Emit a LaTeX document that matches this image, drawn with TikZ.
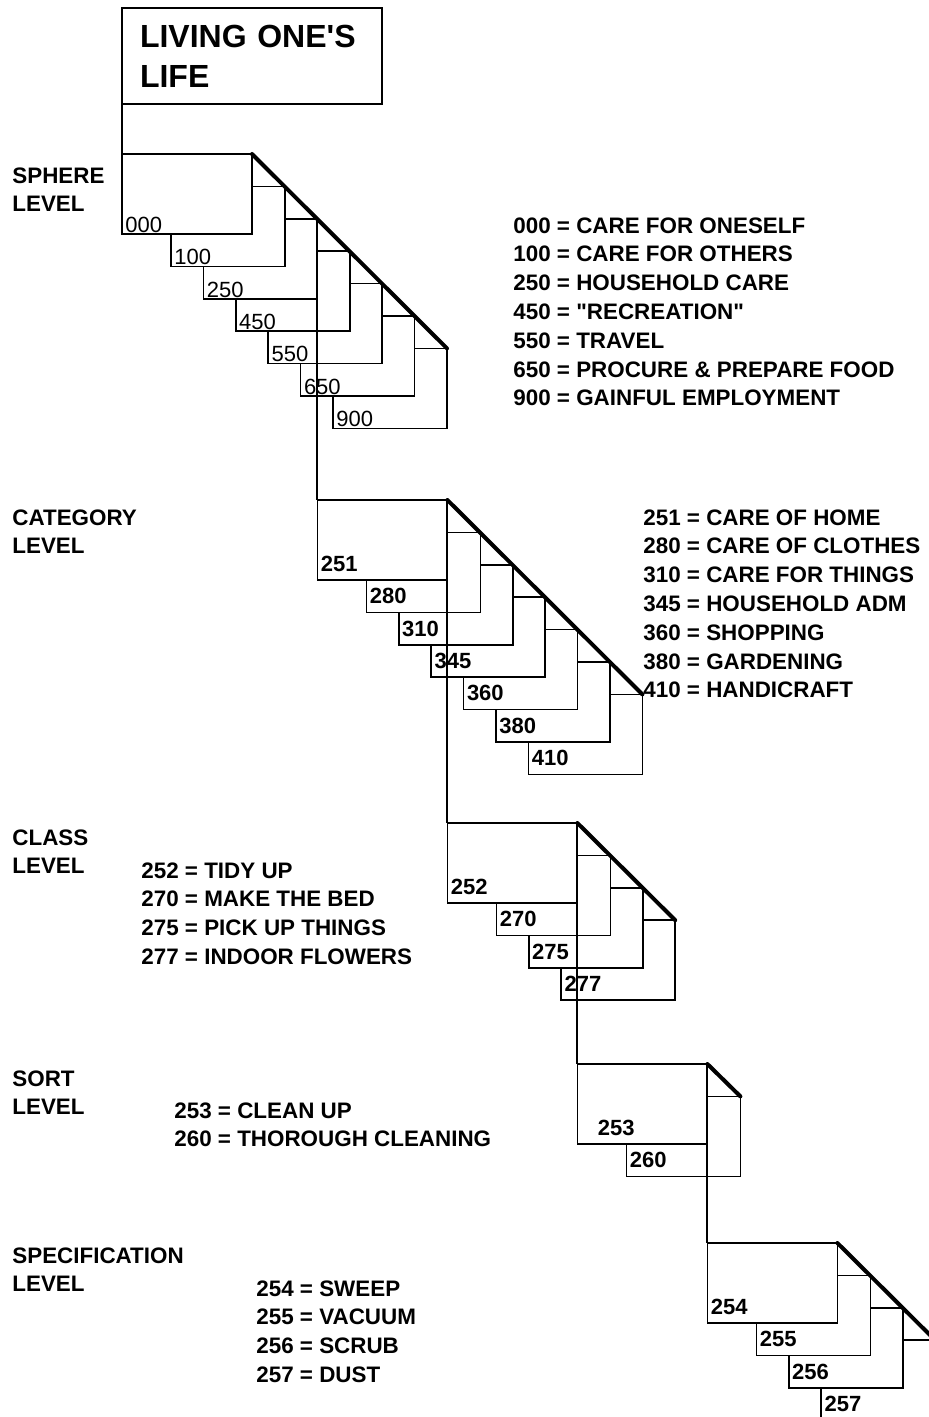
\documentclass[tikz,border=0pt]{standalone}
\usepackage{fontspec}
\setmainfont{Liberation Sans}
\begin{document}
\begin{tikzpicture}[x=.5pt,y=.5pt,
 card/.style={draw=black,fill=white,line width=.8pt,inner sep=0pt,outer sep=0pt,
              anchor=north west,minimum width=57pt,minimum height=40pt},
 front/.style={card,minimum width=65pt},
 num/.style={font=\fontsize{11}{13}\selectfont\bfseries,anchor=south west,
             inner sep=0pt,xshift=1.5pt,yshift=4pt},
 snum/.style={num,font=\fontsize{11}{13}\selectfont,yshift=-3.5pt},
 fold/.style={line width=2pt,line cap=round},
 link/.style={line width=1pt},
 lab/.style={font=\fontsize{11.2}{14.4}\selectfont\bfseries,align=left,
             anchor=north west,inner sep=0pt}]
\clip (0,0) rectangle (929,-1417);

\node[draw=black,line width=1pt,outer sep=0pt,anchor=north west,minimum width=130pt,
      minimum height=48pt,text width=112pt,inner xsep=9pt,align=left,
      font=\fontsize{16}{20}\selectfont\bfseries] (life) at (122,-8)
 {LIVING ONE\textquotesingle S\\LIFE};

% sphere level
\node[lab] at (12,-167) {SPHERE\\LEVEL};
\foreach \k/\c in {6/900,5/650,4/550,3/450,2/250,1/100}{
  \node[card] (sph\k) at ({171+(\k-1)*32.4},{-154-\k*32.4}) {};
  \node[snum] at (sph\k.south west) {\c};
}
\node[front] (sph0) at (122,-154) {};
\node[snum] at (sph0.south west) {000};
\draw[fold] (sph0.north east) -- (sph6.north east);
\node[lab] at (513,-217) {000 = CARE FOR ONESELF\\100 = CARE FOR OTHERS\\250 = HOUSEHOLD CARE\\
 450 = \textquotedbl RECREATION\textquotedbl\\550 = TRAVEL\\650 = PROCURE \& PREPARE FOOD\\
 900 = GAINFUL EMPLOYMENT};

% category level
\node[lab] at (12,-509) {CATEGORY\\LEVEL};
\foreach \k/\c in {6/410,5/380,4/360,3/345,2/310,1/280}{
  \node[card] (cat\k) at ({366.4+(\k-1)*32.4},{-500-\k*32.4}) {};
  \node[num] at (cat\k.south west) {\c};
}
\node[front] (cat0) at (317.4,-500) {};
\node[num] at (cat0.south west) {251};
\draw[fold] (cat0.north east) -- (cat6.north east);
\node[lab] at (643,-509) {251 = CARE OF HOME\\280 = CARE OF CLOTHES\\310 = CARE FOR THINGS\\
 345 = HOUSEHOLD ADM\\360 = SHOPPING\\380 = GARDENING\\410 = HANDICRAFT};

% class level
\node[lab] at (12,-829) {CLASS\\LEVEL};
\foreach \k/\c in {3/277,2/275,1/270}{
  \node[card] (cls\k) at ({496.4+(\k-1)*32.4},{-823-\k*32.4}) {};
  \node[num] at (cls\k.south west) {\c};
}
\node[front] (cls0) at (447.4,-823) {};
\node[num] at (cls0.south west) {252};
\draw[fold] (cls0.north east) -- (cls3.north east);
\node[lab] at (141,-862) {252 = TIDY UP\\270 = MAKE THE BED\\275 = PICK UP THINGS\\277 = INDOOR FLOWERS};

% sort level
\node[lab] at (12,-1070) {SORT\\LEVEL};
\node[card] (srt1) at (626.4,-1096.4) {};
\node[num] at (srt1.south west) {260};
\node[front] (srt0) at (577.4,-1064) {};
\node[num,xshift=8.5pt] at (srt0.south west) {253};
\draw[fold] (srt0.north east) -- (srt1.north east);
\node[lab] at (174,-1102) {253 = CLEAN UP\\260 = THOROUGH CLEANING};

% specification level
\node[lab] at (12,-1247) {SPECIFICATION\\LEVEL};
\foreach \k/\c in {3/257,2/256,1/255}{
  \node[card] (spc\k) at ({756.4+(\k-1)*32.4},{-1243-\k*32.4}) {};
  \node[num] at (spc\k.south west) {\c};
}
\node[front] (spc0) at (707.4,-1243) {};
\node[num] at (spc0.south west) {254};
\draw[fold] (spc0.north east) -- (spc3.north east);
\node[lab] at (256,-1280) {254 = SWEEP\\255 = VACUUM\\256 = SCRUB\\257 = DUST};

% links between levels
\draw[link] (life.south west) -- (sph0.north west);
\draw[link] (sph2.north east) -- (cat0.north west);
\draw[link] (cat0.north east) -- (cls0.north west);
\draw[link] (cls0.north east) -- (srt0.north west);
\draw[link] (srt0.north east) -- (spc0.north west);
\end{tikzpicture}
\end{document}
